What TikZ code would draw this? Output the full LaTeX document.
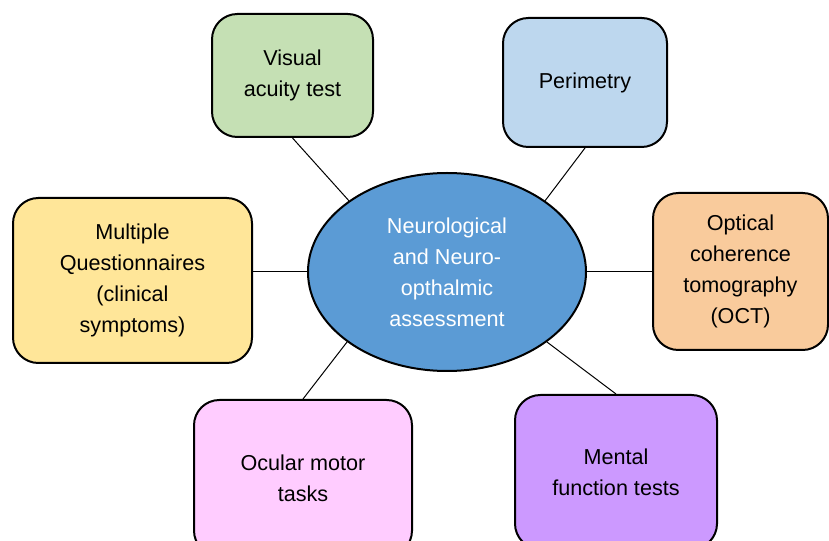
\documentclass[tikz,border=0pt]{standalone}
\usepackage{fontspec}
\setmainfont{Liberation Sans}
\usetikzlibrary{shapes.geometric}
\definecolor{cgreen}{HTML}{C5E0B4}
\definecolor{cblue}{HTML}{BDD7EE}
\definecolor{cyellow}{HTML}{FFE699}
\definecolor{corange}{HTML}{F9CB9C}
\definecolor{cpink}{HTML}{FFCCFF}
\definecolor{cpurple}{HTML}{CC99FF}
\definecolor{ccentre}{HTML}{5B9BD5}
\tikzset{
  box/.style={draw=black, line width=1.5pt, rounded corners=19pt,
    align=center, inner sep=0pt, text=black,
    font=\fontsize{16.2}{23.25}\selectfont},
  hub/.style={ellipse, draw=black, line width=1.5pt, fill=ccentre,
    align=center, inner sep=0pt, text=white,
    font=\fontsize{16.2}{23.25}\selectfont},
  link/.style={draw=black, line width=0.75pt}
}
\begin{document}
\begin{tikzpicture}[x=0.75pt, y=-0.75pt]
  \useasboundingbox (0,0) rectangle (829,541);
  \clip (0,0) rectangle (829,541);

  % central assessment
  \node[hub, minimum width=208.5pt, minimum height=148.5pt] (c) at (447,272)
    {Neurological\\and Neuro-\\opthalmic\\assessment};

  % surrounding tests
  \node[box, fill=cgreen, minimum width=120.75pt, minimum height=92.25pt] (vis) at (292.5,75.5)
    {Visual\\acuity test};
  \node[box, fill=cblue, minimum width=123pt, minimum height=96.75pt] (per) at (585,82.5)
    {Perimetry};
  \node[box, fill=cyellow, minimum width=179.25pt, minimum height=123.75pt] (mul) at (132.5,280.5)
    {Multiple\\Questionnaires\\(clinical\\symptoms)};
  \node[box, fill=corange, minimum width=131.25pt, minimum height=117.75pt] (oct) at (740.5,271.5)
    {Optical\\coherence\\tomography\\(OCT)};
  \node[box, fill=cpink, minimum width=163.5pt, minimum height=117pt] (ocu) at (303,478)
    {Ocular motor\\tasks};
  \node[box, fill=cpurple, minimum width=151.5pt, minimum height=115.5pt] (men) at (616,472)
    {Mental\\function tests};

  % connectors
  \draw[link] (vis.south) -- (c.144);
  \draw[link] (per.south) -- (c.36);
  \draw[link] (mul.east |- c.west) -- (c.west);
  \draw[link] (c.east) -- (oct.west |- c.east);
  \draw[link] (c.215) -- (ocu.north);
  \draw[link] (c.325) -- (men.north);
\end{tikzpicture}
\end{document}
